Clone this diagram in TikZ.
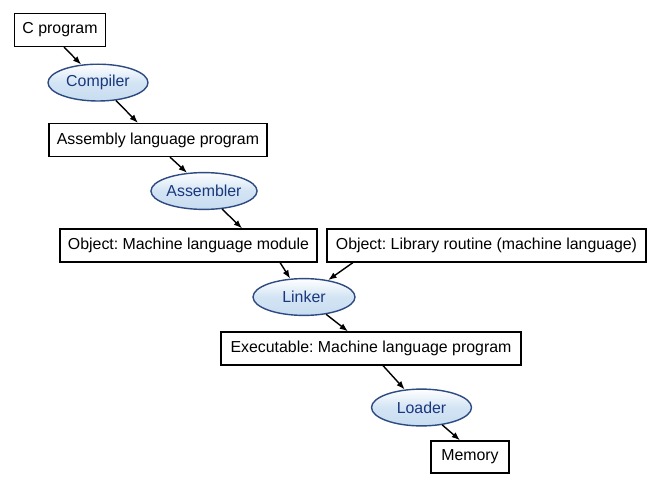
\documentclass[tikz,border=0pt]{standalone}
\usepackage{fontspec}
\setmainfont{Liberation Sans}
\usepackage{tikz}
\usetikzlibrary{arrows.meta,shapes.geometric}
\definecolor{toolblue}{RGB}{200,221,241}
\definecolor{tooledge}{RGB}{45,75,130}
\definecolor{tooltext}{RGB}{25,55,125}
\frenchspacing

\tikzset{
  filebox/.style={draw,line width=1pt,fill=white,minimum height=0.82cm,inner xsep=0.2cm,font=\fontsize{11.3}{13}\selectfont},
  toolell/.style={ellipse,draw=tooledge,line width=1pt,top color=white,bottom color=toolblue,middle color=toolblue!80,
    minimum width=2.5cm,minimum height=0.92cm,inner sep=0pt,text=tooltext,font=\fontsize{11.3}{13}\selectfont},
  flow/.style={-{Latex[length=6pt,width=4.5pt]},line width=1pt}
}

\begin{document}
\begin{tikzpicture}[>=Latex]
  \useasboundingbox (0,0) rectangle (16.225,12.025);
  \node[filebox,minimum width=2.225cm] (cprog) at (1.5,11.275) {C program};
  \node[toolell] (compiler) at (2.45,9.96) {Compiler};
  \node[filebox,minimum width=5.45cm] (asmprog) at (3.95,8.525) {Assembly language program};
  \node[toolell,minimum width=2.45cm] (assembler) at (5.1,7.25) {Assembler};
  \node[filebox,minimum width=6.425cm] (objmod) at (4.7125,5.8875) {Object: Machine language module};
  \node[filebox,minimum width=7.975cm] (objlib) at (12.1625,5.8875) {Object: Library routine (machine language)};
  \node[toolell,minimum width=2.55cm] (linker) at (7.6,4.6) {Linker};
  \node[filebox,minimum width=7.5cm] (exe) at (9.275,3.3125) {Executable: Machine language program};
  \node[toolell] (loader) at (10.5375,1.8375) {Loader};
  \node[filebox,minimum width=1.95cm,minimum height=0.8cm] (memory) at (11.75,0.6) {Memory};

  \draw[flow] ([xshift=0.1cm]cprog.south) -- (compiler.133);
  \draw[flow] (compiler.-45) -- ([xshift=-0.5cm]asmprog.north);
  \draw[flow] ([xshift=0.3cm]asmprog.south) -- (assembler.133);
  \draw[flow] (assembler.-45) -- ([xshift=1.34cm]objmod.north);
  \draw[flow] ([xshift=2.29cm]objmod.south) -- (linker.127);
  \draw[flow] ([xshift=-3.34cm]objlib.south) -- (linker.35);
  \draw[flow] (linker.-38) -- ([xshift=-0.575cm]exe.north);
  \draw[flow] ([xshift=0.3cm]exe.south) -- (loader.133);
  \draw[flow] (loader.-40) -- ([xshift=-0.25cm]memory.north);
\end{tikzpicture}
\end{document}
